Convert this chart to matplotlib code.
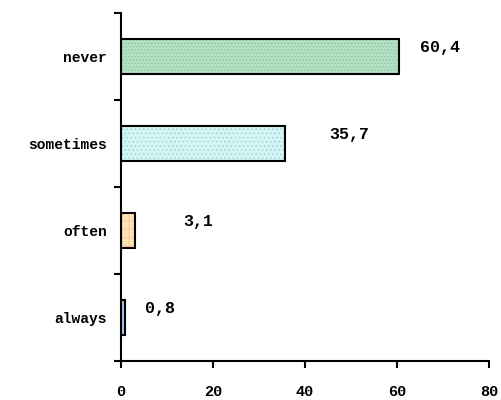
import matplotlib
matplotlib.use("Agg")
import matplotlib.pyplot as plt
import numpy as np

plt.rcParams['font.family'] = ['Liberation Mono', 'DejaVu Sans Mono']
plt.rcParams['hatch.linewidth'] = 0.6

categories = ["always", "often", "sometimes", "never"]
values = [0.8, 3.1, 35.7, 60.4]
labels = ["0,8", "3,1", "35,7", "60,4"]
label_offsets = [4.5, 10.5, 9.5, 4.5]
colors = ["#a9cdf0", "#fde0b4", "#d6f4f4", "#b4e0c4"]
hatch_colors = ["#a9cdf0", "#f6cc90", "#8fdada", "#86c89e"]
hatches = ["", "++", "....", "....."]

fig = plt.figure(figsize=(5.01, 4.0), dpi=100)
ax = fig.add_axes([0.2415, 0.0975, 0.7345, 0.87])

y = np.arange(len(categories))
for i in range(len(categories)):
    # fill with a soft hatch, then a black outline on top
    ax.barh(y[i], values[i], height=0.4, color=colors[i],
            edgecolor=hatch_colors[i], linewidth=0, hatch=hatches[i])
    ax.barh(y[i], values[i], height=0.4, fill=False, edgecolor="black",
            linewidth=1.5)
    ax.text(values[i] + label_offsets[i], y[i] + 0.1, labels[i], ha="left",
            va="center", fontsize=12, fontweight="bold")

ax.set_xlim(0, 80)
ax.set_ylim(-0.5, 3.5)
ax.set_xticks([0, 20, 40, 60, 80])
ax.set_xticklabels(["0", "20", "40", "60", "80"], fontsize=11, fontweight="bold")
ax.set_yticks(y)
ax.set_yticklabels(categories, fontsize=10.5, fontweight="bold")
ax.set_yticks(np.arange(-0.5, 4.0, 1.0), minor=True)
ax.tick_params(axis="y", which="major", length=0, pad=10)
ax.tick_params(axis="y", which="minor", length=5, width=1.5, direction="out")
ax.tick_params(axis="x", length=5, width=1.5, direction="out", pad=12)
for s in ["top", "right"]:
    ax.spines[s].set_visible(False)
for s in ["left", "bottom"]:
    ax.spines[s].set_linewidth(1.5)

fig.savefig("out.png", dpi=100)
